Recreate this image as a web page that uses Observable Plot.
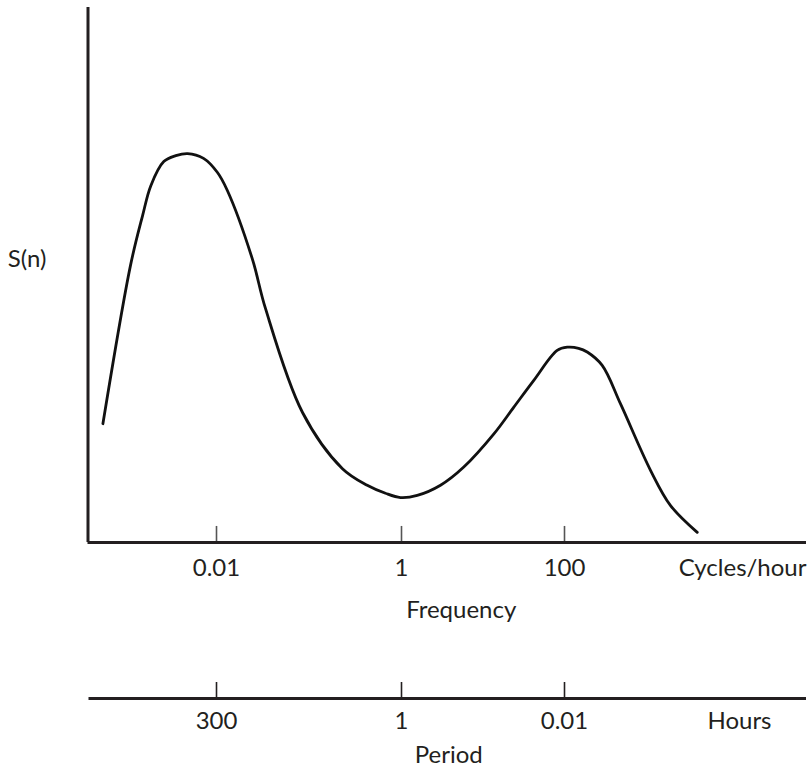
<!DOCTYPE html>
<html>
<head>
<meta charset="utf-8">
<script src="https://cdn.jsdelivr.net/npm/d3@7"></script>
<script src="https://cdn.jsdelivr.net/npm/@observablehq/plot@0.6"></script>
<style>
  html, body { margin: 0; padding: 0; background: #fff; }
  #chart { width: 808px; }
  #chart svg { display: block; }
</style>
</head>
<body>
<div id="chart"></div>
<script>
// Frequency (cycles/hour) and spectral density S(n), arbitrary units
const freq = [5.81e-4, 1.16e-3, 1.57e-3, 1.93e-3, 2.67e-3, 3.61e-3, 4.85e-3, 7.23e-3,
  0.0102, 0.0131, 0.0243, 0.0339, 0.0851, 0.230, 0.426, 0.671, 0.976, 1.56, 3.01, 5.81,
  13.6, 23.9, 42.0, 81.3, 108, 149, 190, 290, 487, 1135, 2000, 4250];
const spectrum = [22.2, 51.8, 61.1, 66.7, 71.2, 72.3, 72.7, 71.8,
  69.2, 65.8, 53.1, 43.7, 24.3, 13.8, 10.7, 9.2, 8.4, 8.8, 10.7, 14.1,
  20.3, 25.3, 30.3, 35.9, 36.5, 36.3, 35.6, 33.1, 25.9, 13.5, 6.9, 1.9];

// Axis ticks
const freqTicks = [0.01, 1, 100];
const freqTickLabels = ["0.01", "1", "100"];
const periodTickLabels = ["300", "1", "0.01"];
const freqUnit = "Cycles/hour";
const periodUnit = "Hours";
const freqTitle = "Frequency";
const periodTitle = "Period";
const yTitle = "S(n)";

// Drawn axis extent (frequency scale is hand-spaced, so piecewise)
const freqDomain = [4.0e-4, 0.01, 1, 100, 9.3e4];
const sDomain = [0, 100];

const data = freq.map((f, i) => ({f, s: spectrum[i]}));

const FONT = "Lato, 'Open Sans', sans-serif";
const INK = "#231f20";
const FS = 24;
const xScale = {type: "log", domain: freqDomain, range: [87.5, 216, 401, 564, 806]};

const plot1 = Plot.plot({
  width: 808,
  height: 640,
  marginTop: 7,
  marginBottom: 98,
  marginLeft: 87.5,
  marginRight: 2,
  style: {fontFamily: FONT, fontSize: "24px", color: INK, background: "#fff"},
  x: {...xScale, axis: null},
  y: {domain: sDomain, axis: null},
  marks: [
    Plot.ruleX(freqTicks, {y1: 0, y2: 3, stroke: "#555", strokeWidth: 1.6}),
    Plot.ruleY([0], {stroke: INK, strokeWidth: 3}),
    Plot.ruleX([freqDomain[0]], {y1: 0, y2: 100, stroke: INK, strokeWidth: 3}),
    Plot.line(data, {x: "f", y: "s", curve: "catmull-rom", stroke: "#111", strokeWidth: 2.8}),
    Plot.text(freqTicks, {x: d => d, text: (d, i) => freqTickLabels[i], frameAnchor: "bottom", dy: 33, fill: INK, fontSize: FS}),
    Plot.text([freqUnit], {frameAnchor: "bottom-right", textAnchor: "end", dy: 33, fill: INK, fontSize: FS}),
    Plot.text([freqTitle], {frameAnchor: "bottom", textAnchor: "middle", dy: 75, dx: 14, fill: INK, fontSize: FS}),
    Plot.text([yTitle], {frameAnchor: "left", textAnchor: "middle", y: [53], dx: -61, fill: INK, fontSize: FS})
  ]
});

const plot2 = Plot.plot({
  width: 808,
  height: 133,
  marginTop: 42,
  marginBottom: 75,
  marginLeft: 88.5,
  marginRight: 2,
  style: {fontFamily: FONT, fontSize: "24px", color: INK, background: "#fff"},
  x: {...xScale, axis: null},
  y: {domain: [0, 1], axis: null},
  marks: [
    Plot.ruleX(freqTicks, {y1: 0, y2: 1, stroke: INK, strokeWidth: 1.6}),
    Plot.ruleY([0], {stroke: INK, strokeWidth: 3}),
    Plot.text(freqTicks, {x: d => d, text: (d, i) => periodTickLabels[i], frameAnchor: "bottom", dy: 30, fill: INK, fontSize: FS}),
    Plot.text([periodUnit], {frameAnchor: "bottom-right", textAnchor: "middle", dx: -67, dy: 30, fill: INK, fontSize: FS}),
    Plot.text([periodTitle], {frameAnchor: "bottom", textAnchor: "middle", dy: 64, dx: 1, fill: INK, fontSize: FS})
  ]
});

const root = document.getElementById("chart");
root.appendChild(plot1);
root.appendChild(plot2);
</script>
</body>
</html>
